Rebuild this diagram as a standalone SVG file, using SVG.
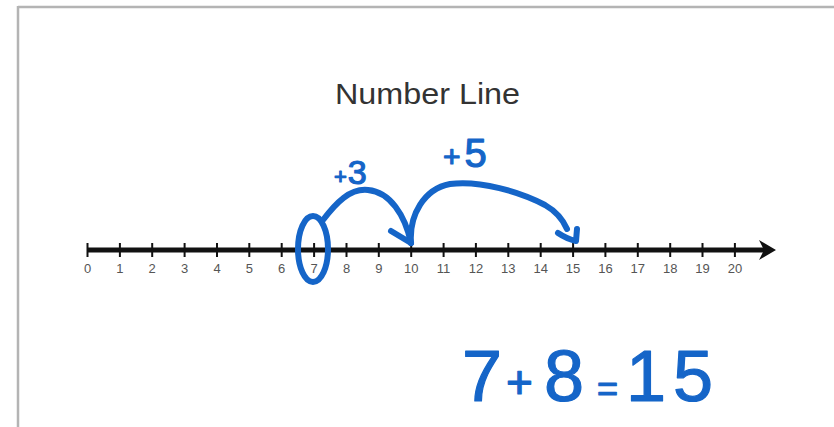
<svg xmlns="http://www.w3.org/2000/svg" width="834" height="427" viewBox="0 0 834 427">
<defs>
<style>
.frame{stroke:#b4b4b4;stroke-width:2.5;fill:none}
.axis{stroke:#111;stroke-width:5}
.tick{stroke:#111;stroke-width:2}
.lbl{font-family:"Liberation Sans",Arial,sans-serif;font-size:13px;fill:#555;text-anchor:middle}
.title{font-family:"Liberation Sans",Arial,sans-serif;font-size:29px;fill:#333}
.ink{stroke:#1565c8;stroke-width:6;fill:none;stroke-linecap:round;stroke-linejoin:round}
.hand{font-family:"Liberation Sans",Arial,sans-serif;fill:#1565c8;stroke:#1565c8;stroke-width:1.2;stroke-linejoin:round}
</style>
</defs>
<rect width="834" height="427" fill="#fff"/>
<g id="frame">
<line class="frame" x1="18" y1="7" x2="834" y2="7"/>
<line class="frame" x1="18" y1="6" x2="18" y2="427"/>
</g>
<g id="title"><text class="title" x="335" y="104" textLength="185" lengthAdjust="spacingAndGlyphs">Number Line</text></g>
<g id="number-line">
<line class="axis" x1="87" y1="250" x2="766" y2="250"/>
<path d="M759,240 L776,250 L759,260 L764,250 Z" fill="#111"/>
<g class="tick">
<line x1="87.5" y1="243" x2="87.5" y2="257"/><line x1="119.9" y1="243" x2="119.9" y2="257"/><line x1="152.2" y1="243" x2="152.2" y2="257"/><line x1="184.6" y1="243" x2="184.6" y2="257"/><line x1="217" y1="243" x2="217" y2="257"/><line x1="249.3" y1="243" x2="249.3" y2="257"/><line x1="281.7" y1="243" x2="281.7" y2="257"/><line x1="314.1" y1="243" x2="314.1" y2="257"/><line x1="346.5" y1="243" x2="346.5" y2="257"/><line x1="378.8" y1="243" x2="378.8" y2="257"/><line x1="411.2" y1="243" x2="411.2" y2="257"/><line x1="443.6" y1="243" x2="443.6" y2="257"/><line x1="475.9" y1="243" x2="475.9" y2="257"/><line x1="508.3" y1="243" x2="508.3" y2="257"/><line x1="540.7" y1="243" x2="540.7" y2="257"/><line x1="573.1" y1="243" x2="573.1" y2="257"/><line x1="605.4" y1="243" x2="605.4" y2="257"/><line x1="637.8" y1="243" x2="637.8" y2="257"/><line x1="670.2" y1="243" x2="670.2" y2="257"/><line x1="702.5" y1="243" x2="702.5" y2="257"/><line x1="734.9" y1="243" x2="734.9" y2="257"/>
</g>
<g class="lbl">
<text x="87.5" y="273">0</text><text x="119.9" y="273">1</text><text x="152.2" y="273">2</text><text x="184.6" y="273">3</text><text x="217" y="273">4</text><text x="249.3" y="273">5</text><text x="281.7" y="273">6</text><text x="314.1" y="273">7</text><text x="346.5" y="273">8</text><text x="378.8" y="273">9</text><text x="411.2" y="273">10</text><text x="443.6" y="273">11</text><text x="475.9" y="273">12</text><text x="508.3" y="273">13</text><text x="540.7" y="273">14</text><text x="573.1" y="273">15</text><text x="605.4" y="273">16</text><text x="637.8" y="273">17</text><text x="670.2" y="273">18</text><text x="702.5" y="273">19</text><text x="734.9" y="273">20</text>
</g>
</g>
<g id="circle-7"><ellipse class="ink" cx="313" cy="249" rx="15" ry="33"/></g>
<g id="connectors">
<path class="ink" d="M323,220 C336,203 350,188 368,190 C390,192 405,215 411,243"/>
<path class="ink" d="M391,231 L411,243"/>
<path class="ink" d="M411,243 C409,215 424,189 450,184 C480,180 520,192 545,205 C559,213 564,222 567,229"/>
<path class="ink" d="M558,233 Q567,239 576,241 L577,229"/>
</g>
<g id="label-plus3"><text class="hand" x="334" y="184"><tspan font-size="22">+</tspan><tspan font-size="34" dx="1">3</tspan></text></g>
<g id="label-plus5"><text class="hand" x="443" y="167"><tspan font-size="30">+</tspan><tspan font-size="40" dx="4">5</tspan></text></g>
<g id="equation"><text class="hand" y="401" font-size="72"><tspan x="462">7</tspan><tspan x="506" font-size="46" dy="-3">+</tspan><tspan x="544" dy="3">8</tspan><tspan x="597" font-size="36">=</tspan><tspan x="626">1</tspan><tspan x="673">5</tspan></text></g>
</svg>
